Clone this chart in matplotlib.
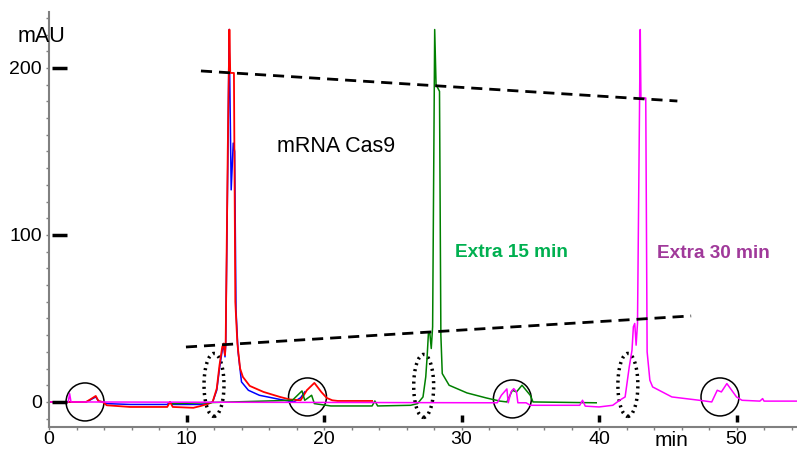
import matplotlib
matplotlib.use("Agg")
import matplotlib.pyplot as plt
from matplotlib.patches import Ellipse

plt.rcParams['font.family'] = ['Liberation Sans', 'DejaVu Sans']

# chromatogram traces (time in min, signal in mAU)
blue_t = [0, 1.3, 2.7, 3.0, 3.4, 3.6, 3.9, 4.2, 5.9, 7.0, 8.6, 8.8, 9.0, 10.5, 11.0, 11.6, 11.9,
          12.2, 12.4, 12.6, 12.7, 12.8, 12.85, 13.0, 13.1, 13.25, 13.4, 13.5, 13.6, 13.75, 14.0,
          14.5, 15.3, 16.8, 17.8, 18.3, 18.6]
blue_v = [0, 0, 0, 1.2, 3.0, 0.5, 0, -1, -1.5, -1.5, -1.5, 0, -1.5, -1.5, -1.5, -1, 0,
          7, 20, 31, 34, 27, 34, 140, 223, 127, 155, 150, 55, 30, 12,
          7, 4, 1.5, 0, 2.5, 6]

red_t = [0, 1.3, 2.7, 3.0, 3.4, 3.6, 3.9, 4.2, 5.9, 7.0, 8.6, 8.8, 9.0, 10.5, 11.0, 11.6, 11.9,
         12.2, 12.4, 12.6, 12.7, 12.8, 12.85, 13.0, 13.12, 13.18, 13.45, 13.55, 13.7, 13.9, 14.1,
         14.6, 15.6, 16.8, 17.5, 18.3, 18.75, 19.3, 19.8, 20.2, 20.6, 21.0, 23.5]
red_v = [0, 0, 0, 1.5, 3.6, 0.5, 0, -2, -3, -3, -3, 0, -3, -3.5, -2.5, -1, 0,
         8, 22, 33, 35, 28, 36, 150, 223, 197, 197, 60, 35, 20, 15,
         9.6, 6, 3, 1.5, 1, 7, 11.4, 6, 2.4, 1, 0.6, 0.6]

green_t = [9.0, 17.7, 18.4, 18.6, 19.1, 19.3, 20.5, 23.5, 23.7, 23.9, 26.3, 26.8, 27.2, 27.4,
           27.5, 27.6, 27.7, 27.8, 27.9, 28.05, 28.15, 28.4, 28.5, 28.6, 29.1, 30.4, 31.8, 32.8,
           33.3, 33.7, 34.0, 34.4, 35.0, 35.2, 39.8]
green_v = [-1, 1, 6.6, 1, 4, -1, -2.4, -2.4, 0.6, -2.4, -2, -1, 3, 15,
           27, 42, 41, 32, 45, 223, 190, 186, 40, 17, 10, 5.4, 2.4, 0.5,
           0, 7, 6, 10, 4, 0, -0.5]

magenta_t = [0, 1.4, 1.5, 1.6, 32.6, 32.9, 33.3, 33.4, 33.6, 33.8, 34.0, 34.1, 34.7, 35.0,
             38.6, 38.8, 39.0, 40.0, 41.0, 41.5, 41.9, 42.2, 42.4, 42.5, 42.6, 42.7, 42.8, 43.0,
             43.05, 43.4, 43.5, 43.7, 43.9, 45.3, 47.3, 48.2, 48.6, 48.9, 49.3, 50.0, 50.4, 51.7,
             51.9, 52.0, 54.4]
magenta_v = [0, 0, 5, 0, -0.5, 4, 7.8, -0.5, 6, 8, 6, -0.5, -0.5, -2,
             -2, 1, -2.5, -3, -2, 1, 3, 21, 31, 45, 47, 34, 47, 223,
             182, 182, 30, 13, 9, 3, 1, 0, 7, 6, 11, 3, 1, 0.5,
             2, 0.5, 0.5]

# annotation shapes
top_line_x = [11.05, 45.7]
top_line_y = [198.2, 180.2]
bottom_line_x = [9.96, 46.7]
bottom_line_y = [32.9, 51.5]
circle_x = [2.62, 18.8, 33.7, 48.8]
circle_y = [0, 3, 1.8, 3]
dotted_x = [12.0, 27.25, 42.1]
dotted_y = [10.2, 9.6, 10.2]

x_ticks = [0, 10, 20, 30, 40, 50]
y_ticks = [0, 100, 200]

fig = plt.figure(figsize=(7.97, 4.49), dpi=100)
ax = fig.add_axes([49 / 797, 22 / 449, 748 / 797, 415 / 449])

ax.plot(blue_t, blue_v, color='#0000ff', lw=1.1)
ax.plot(red_t, red_v, color='#ff0000', lw=1.3)
ax.plot(green_t, green_v, color='#008000', lw=1.1)
ax.plot(magenta_t, magenta_v, color='#ff00ff', lw=1.1)

ax.plot(top_line_x, top_line_y, color='black', lw=2, dashes=(4, 2.5))
ax.plot(bottom_line_x, bottom_line_y, color='black', lw=2, dashes=(4, 2.5))

for cx, cy in zip(circle_x, circle_y):
    ax.add_patch(Ellipse((cx, cy), 2.76, 22.75, fill=False, ec='black', lw=1.1))
for cx, cy in zip(dotted_x, dotted_y):
    ax.add_patch(Ellipse((cx, cy), 1.45, 37.7, fill=False, ec='black', lw=2.5, ls=(0, (0.6, 1.2))))

# thick black marks next to the axes
ax.hlines(y_ticks, 0.22, 1.3, color='black', lw=2.5)
ax.vlines(x_ticks[1:], -12, -7.8, color='black', lw=2.5)

ax.text(16.6, 152.7, 'mRNA Cas9', fontsize=15.5, va='center', ha='left')
ax.text(29.5, 86.8, 'Extra 15 min', fontsize=13.7, fontweight='bold', color='#00b050')
ax.text(44.2, 86.2, 'Extra 30 min', fontsize=13.7, fontweight='bold', color='#a0399a')

ax.set_xlim(0, 54.4)
ax.set_ylim(-15, 233.5)
ax.set_xticks(x_ticks)
ax.set_xticks(range(0, 55, 2), minor=True)
ax.set_yticks(y_ticks)
ax.set_yticks(range(-10, 231, 10), minor=True)
ax.tick_params(axis='both', which='both', direction='out', color='#808080', width=1, length=2.2, labelsize=14)
ax.tick_params(axis='x', pad=0.5)
ax.tick_params(axis='y', pad=3)

for s in ['top', 'right']:
    ax.spines[s].set_visible(False)
for s in ['left', 'bottom']:
    ax.spines[s].set_color('#808080')
    ax.spines[s].set_linewidth(1.5)

fig.text(18 / 797, 1 - 37 / 449, 'mAU', fontsize=15.5, va='center', ha='left')
fig.text(672 / 797, 1 - 441 / 449, 'min', fontsize=15, va='center', ha='center')

fig.savefig('out.png', dpi=100)
